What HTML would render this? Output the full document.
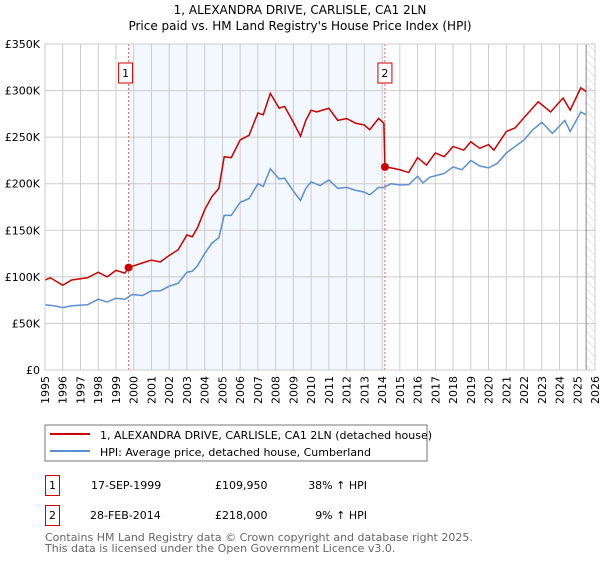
<!DOCTYPE html>
<html><head><meta charset="utf-8"><style>
body{margin:0;background:#fff;width:600px;height:560px;overflow:hidden;font-family:"DejaVu Sans","Liberation Sans",sans-serif;}
svg text{font-family:"DejaVu Sans","Liberation Sans",sans-serif;}
</style></head><body>
<svg id="c" width="600" height="560" xmlns="http://www.w3.org/2000/svg">
<defs><pattern id="hatch" width="6" height="6" patternUnits="userSpaceOnUse" patternTransform="rotate(-45)"><line x1="0" y1="0" x2="0" y2="6" stroke="#ccc" stroke-width="1"/></pattern></defs>
<text x="300" y="14" text-anchor="middle" font-size="12">1, ALEXANDRA DRIVE, CARLISLE, CA1 2LN</text>
<text x="300" y="30" text-anchor="middle" font-size="12">Price paid vs. HM Land Registry's House Price Index (HPI)</text>
<g id="grid"></g><g id="marks"></g><g id="axes"></g>
<rect x="45" y="425" width="382" height="36" fill="#fff" stroke="#777"/>
<line x1="50" y1="434" x2="90" y2="434" stroke="#cc0000" stroke-width="2"/>
<text x="100" y="439" font-size="11">1, ALEXANDRA DRIVE, CARLISLE, CA1 2LN (detached house)</text>
<line x1="50" y1="451" x2="90" y2="451" stroke="#5b8fd0" stroke-width="2"/>
<text x="100" y="456" font-size="11">HPI: Average price, detached house, Cumberland</text>
<g font-size="11">
<rect x="45.5" y="475.5" width="14" height="20" fill="none" stroke="#cc0000"/>
<text x="52.5" y="489" text-anchor="middle">1</text>
<text x="91" y="489">17-SEP-1999</text><text x="215" y="489">£109,950</text><text x="367" y="489" text-anchor="end">38% ↑ HPI</text></g>
<g font-size="11">
<rect x="45.5" y="505.5" width="14" height="20" fill="none" stroke="#cc0000"/>
<text x="52.5" y="519" text-anchor="middle">2</text>
<text x="90" y="519">28-FEB-2014</text><text x="215" y="519">£218,000</text><text x="367" y="519" text-anchor="end">9% ↑ HPI</text></g>
<text x="45" y="541" font-size="11" fill="#666">Contains HM Land Registry data © Crown copyright and database right 2025.</text>
<text x="45" y="552" font-size="11" fill="#666">This data is licensed under the Open Government Licence v3.0.</text>
</svg>
<script>
const yearTicks=[1995,1996,1997,1998,1999,2000,2001,2002,2003,2004,2005,2006,2007,2008,2009,2010,2011,2012,2013,2014,2015,2016,2017,2018,2019,2020,2021,2022,2023,2024,2025,2026];
const valueTicks=[0,50000,100000,150000,200000,250000,300000,350000];
const valueTickLabels=["£0","£50K","£100K","£150K","£200K","£250K","£300K","£350K"];
const hpiDates=[1995,1995.5,1996,1996.5,1997.4,1998,1998.5,1999,1999.5,1999.9,2000.5,2001,2001.5,2002,2002.5,2003,2003.3,2003.6,2004,2004.4,2004.8,2005.1,2005.5,2006,2006.5,2007,2007.3,2007.7,2008.2,2008.5,2009,2009.4,2009.7,2010,2010.5,2011,2011.5,2012,2012.5,2013,2013.3,2013.8,2014.1,2014.5,2015,2015.5,2016,2016.3,2016.7,2017.5,2018,2018.5,2019,2019.5,2020,2020.5,2021,2021.5,2022,2022.5,2023,2023.6,2024.3,2024.6,2025.2,2025.5];
const hpiValues=[70000,69000,67000,69000,70000,76000,73000,77000,76000,81000,80000,85000,85000,90000,93000,105000,106000,112000,125000,136000,142000,166000,166000,180000,184000,200000,197000,216000,205000,206000,192000,182000,195000,202000,198000,204000,195000,196000,193000,191000,188000,196000,196000,200000,198600,199000,208000,200800,207000,211000,218000,215000,225000,219000,217000,222000,233000,240000,247000,258000,266000,254000,268000,256000,277000,274000];
const priceDates=[1995,1995.3,1996,1996.5,1997.4,1998,1998.5,1999,1999.5,1999.71,2000.5,2001,2001.5,2002,2002.5,2003,2003.3,2003.6,2004,2004.4,2004.8,2005.1,2005.5,2006,2006.5,2007,2007.3,2007.7,2008.2,2008.5,2009,2009.4,2009.7,2010,2010.3,2011,2011.5,2012,2012.5,2013,2013.3,2013.8,2014.1,2014.16,2014.5,2015,2015.5,2016,2016.5,2017,2017.5,2018,2018.6,2019,2019.5,2020,2020.3,2021,2021.5,2022,2022.8,2023.5,2024.2,2024.6,2025.2,2025.5];
const priceValues=[96600,99000,91000,96600,99000,105000,100000,107000,104000,109950,115000,118000,116000,123000,129000,145000,143000,153000,172000,186000,195000,229000,228000,247000,252000,276000,274000,297000,281000,283000,266000,251000,268000,279000,277000,281000,268000,270000,265000,263000,258000,270000,265000,218000,217000,215000,212000,228000,220000,233000,229000,240000,236000,245000,238000,242000,236000,256000,260000,271000,288000,277000,292000,279000,303000,299000];
const saleDates=[1999.71,2014.16];
const saleValues=[109950,218000];
const saleLabels=["1","2"];
const NS="http://www.w3.org/2000/svg";
const X0=45,X1=595,Y0=370,Y1=44;
const xs=y=>X0+(y-1995)/(2026-1995)*(X1-X0);
const ys=v=>Y0-v/350000*(Y0-Y1);
function mk(tag,attrs,parent){const e=document.createElementNS(NS,tag);for(const k in attrs)e.setAttribute(k,attrs[k]);parent.appendChild(e);return e;}
const grid=document.getElementById('grid'),marks=document.getElementById('marks'),axes=document.getElementById('axes');
const shade=mk('rect',{x:xs(saleDates[0]),y:Y1,width:xs(saleDates[1])-xs(saleDates[0]),height:Y0-Y1,fill:'#eef3fd',opacity:0.7},grid);


const hat=mk('rect',{x:xs(2025.5),y:Y1,width:X1-xs(2025.5),height:Y0-Y1,fill:'url(#hatch)'},grid);


yearTicks.forEach(t=>{const l=mk('line',{x1:xs(t),x2:xs(t),y1:Y1,y2:Y0,stroke:'#ccc'},grid);


const tx=mk('text',{x:0,y:0,'font-size':11,'text-anchor':'end',transform:`translate(${xs(t)+4},${Y0+6}) rotate(-90)`},axes);tx.textContent=t;

});
valueTicks.forEach((v,i)=>{const l=mk('line',{x1:X0,x2:X1,y1:ys(v),y2:ys(v),stroke:'#ccc'},grid);


const tx=mk('text',{x:X0-5,y:ys(v)+4,'font-size':11,'text-anchor':'end'},axes);tx.textContent=valueTickLabels[i];

});
const nowLine=mk('line',{x1:xs(2025.5),x2:xs(2025.5),y1:Y1,y2:Y0,stroke:'#888'},grid);


saleDates.forEach((d,i)=>{const l=mk('line',{x1:xs(d),x2:xs(d),y1:Y1,y2:Y0,stroke:'#e66','stroke-dasharray':'2,2'},grid);


const b=mk('rect',{x:xs(d)-7-(i==0?3:0),y:63,width:14,height:20,fill:'#fff',stroke:'#cc0000'},marks);


const t=mk('text',{x:xs(d)-(i==0?3:0),y:77,'font-size':11,'text-anchor':'middle'},marks);t.textContent=saleLabels[i];

});
const hp=mk('polyline',{points:hpiDates.map((d,i)=>xs(d)+','+ys(hpiValues[i])).join(' '),fill:'none',stroke:'#5b8fd0','stroke-width':1.5},marks);


const pp=mk('polyline',{points:priceDates.map((d,i)=>xs(d)+','+ys(priceValues[i])).join(' '),fill:'none',stroke:'#cc0000','stroke-width':1.5},marks);


saleDates.forEach((d,i)=>{const c=mk('circle',{cx:xs(d),cy:ys(saleValues[i]),r:4,fill:'#cc0000'},marks);

});
const frame=mk('rect',{x:X0,y:Y1,width:X1-X0,height:Y0-Y1,fill:'none',stroke:'#ccc'},axes);


</script>
</body></html>
